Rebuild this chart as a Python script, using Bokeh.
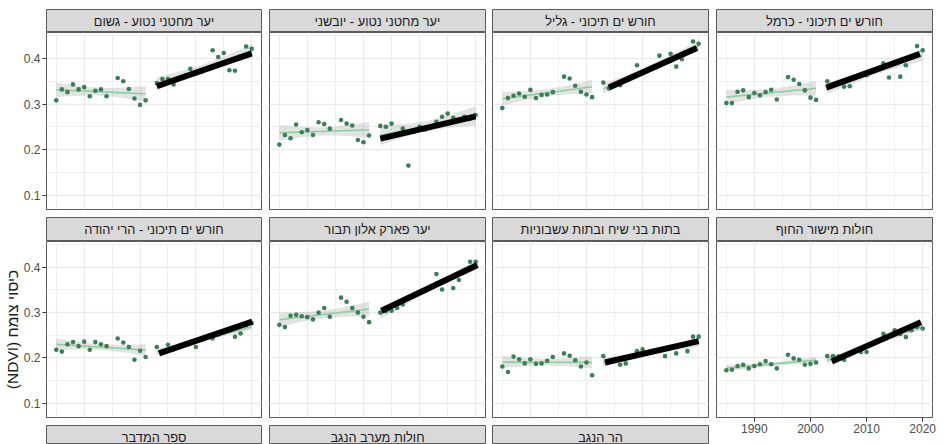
import numpy as np
from bokeh.plotting import figure
from bokeh.layouts import row, column
from bokeh.models import Range1d, FixedTicker, Grid, Label
from bokeh.embed import file_html
from bokeh.resources import INLINE

# ---------------- data ----------------
years_early = [1985, 1986, 1987, 1988, 1989, 1990, 1991, 1992, 1993, 1994,
               1996, 1997, 1998, 1999, 2000, 2001]
years_late = [2003, 2004, 2005, 2006, 2007, 2008, 2009, 2010, 2011, 2012,
              2013, 2014, 2015, 2016, 2017, 2018, 2019, 2020]

panel_titles = [
    "יער מחטני נטוע - גשום", "יער מחטני נטוע - יובשני",
    "חורש ים תיכוני - גליל", "חורש ים תיכוני - כרמל",
    "חורש ים תיכוני - הרי יהודה", "יער פארק אלון תבור",
    "בתות בני שיח ובתות עשבוניות", "חולות מישור החוף",
]
row3_titles = ["ספר המדבר", "חולות מערב הנגב", "הר הנגב"]

gishum_early = [0.308, 0.332, 0.326, 0.343, 0.332, 0.337, 0.317, 0.329, 0.332, 0.317,
                0.357, 0.350, 0.333, 0.312, 0.298, 0.308]
gishum_late = [0.346, 0.355, 0.355, 0.343, 0.357, 0.362, 0.377, 0.367, 0.371, 0.378,
               0.418, 0.403, 0.412, 0.374, 0.373, 0.404, 0.426, 0.421]

yovshani_early = [0.211, 0.232, 0.225, 0.255, 0.238, 0.243, 0.232, 0.260, 0.256, 0.246,
                  0.265, 0.257, 0.253, 0.221, 0.216, 0.231]
yovshani_late = [0.252, 0.250, 0.257, 0.232, 0.246, 0.165, 0.240, 0.250, 0.244, 0.248,
                 0.261, 0.272, 0.279, 0.270, 0.263, 0.272, 0.268, 0.276]

galil_early = [0.291, 0.313, 0.318, 0.323, 0.316, 0.331, 0.313, 0.320, 0.321, 0.326,
               0.360, 0.356, 0.340, 0.327, 0.321, 0.315]
galil_late = [0.347, 0.334, 0.340, 0.341, 0.352, 0.357, 0.385, 0.368, 0.375, 0.380,
              0.406, 0.392, 0.410, 0.382, 0.398, 0.414, 0.437, 0.432]

carmel_early = [0.302, 0.302, 0.327, 0.330, 0.315, 0.324, 0.319, 0.326, 0.331, 0.310,
                0.359, 0.353, 0.344, 0.330, 0.314, 0.309]
carmel_late = [0.350, 0.342, 0.346, 0.338, 0.339, 0.358, 0.364, 0.363, 0.371, 0.376,
               0.389, 0.358, 0.389, 0.360, 0.385, 0.402, 0.427, 0.418]

judea_early = [0.218, 0.214, 0.230, 0.235, 0.226, 0.236, 0.218, 0.235, 0.230, 0.226,
               0.243, 0.234, 0.224, 0.196, 0.216, 0.202]
judea_late = [0.224, 0.212, 0.229, 0.219, 0.226, 0.229, 0.233, 0.224, 0.240, 0.246,
              0.243, 0.252, 0.257, 0.261, 0.247, 0.254, 0.272, 0.277]

tavor_early = [0.273, 0.268, 0.293, 0.295, 0.292, 0.290, 0.285, 0.300, 0.310, 0.291,
               0.333, 0.324, 0.310, 0.300, 0.291, 0.279]
tavor_late = [0.300, 0.303, 0.304, 0.310, 0.318, 0.333, 0.338, 0.345, 0.349, 0.357,
              0.385, 0.351, 0.373, 0.354, 0.372, 0.392, 0.412, 0.412]

batot_early = [0.181, 0.169, 0.203, 0.197, 0.188, 0.197, 0.187, 0.188, 0.194, 0.202,
               0.210, 0.205, 0.195, 0.181, 0.190, 0.162]
batot_late = [0.204, 0.193, 0.196, 0.185, 0.188, 0.203, 0.215, 0.219, 0.212, 0.215,
              0.218, 0.204, 0.222, 0.210, 0.228, 0.215, 0.247, 0.247]

coast_early = [0.173, 0.174, 0.182, 0.185, 0.177, 0.182, 0.186, 0.193, 0.186, 0.177,
               0.207, 0.199, 0.196, 0.185, 0.187, 0.190]
coast_late = [0.204, 0.204, 0.203, 0.196, 0.210, 0.216, 0.213, 0.213, 0.231, 0.238,
              0.253, 0.247, 0.261, 0.253, 0.246, 0.261, 0.268, 0.265]

# black trend segments (start year, end year) and (start value, end value)
trend_years = [[2003.0, 2020.0], [2003.0, 2020.0], [2004.0, 2019.7], [2002.8, 2019.5],
               [2003.4, 2020.1], [2003.2, 2020.3], [2003.3, 2020.0], [2003.8, 2019.7]]
trend_values = [[0.339, 0.411], [0.224, 0.273], [0.336, 0.423], [0.336, 0.410],
                [0.210, 0.280], [0.304, 0.405], [0.190, 0.237], [0.192, 0.279]]

early_series = [gishum_early, yovshani_early, galil_early, carmel_early,
                judea_early, tavor_early, batot_early, coast_early]
late_series = [gishum_late, yovshani_late, galil_late, carmel_late,
               judea_late, tavor_late, batot_late, coast_late]

y_ticks = [0.1, 0.2, 0.3, 0.4]
y_minor = [0.05, 0.15, 0.25, 0.35, 0.45]
x_ticks = [1990, 2000, 2010, 2020]
x_minor = [1985, 1995, 2005, 2015]
y_label = "\u202bכיסוי צומח (NDVI)\u202c"

# ---------------- style ----------------
FONT = "Liberation Sans"
X_RANGE = (1983.25, 2021.75)
Y_RANGE = (0.0687, 0.4568)
POINT_C = "#3b7f57"
FIT_C = "#8fcf9f"
BAND_C = "#9a9a9a"
GRID_C = "#ebebeb"
BORDER_C = "#5a5a5a"
STRIP_FILL = "#d9d9d9"
T975 = {14: 2.145, 16: 2.120}

# column geometry: (width, min_border_left, min_border_right)
COLS = [(265, 45, 4), (224, 4, 4), (223, 3, 4), (227, 4, 7)]


def base_fig(width, height, left, right, top, bottom, xr, yr, xloc=None, yloc=None):
    p = figure(width=width, height=height, x_range=xr, y_range=yr,
               toolbar_location=None, output_backend="svg",
               x_axis_location=xloc, y_axis_location=yloc,
               min_border_left=left, min_border_right=right,
               min_border_top=top, min_border_bottom=bottom)
    p.xgrid.visible = False
    p.ygrid.visible = False
    p.border_fill_color = "white"
    p.outline_line_color = BORDER_C
    p.outline_line_width = 1
    return p


def make_strip(title, col, height, top, text_y):
    w, l, r = COLS[col]
    p = base_fig(w, height, l, r, top, 0, Range1d(0, 1), Range1d(0, 1))
    p.background_fill_color = STRIP_FILL
    p.add_layout(Label(x=0.5, y=text_y, x_units="data", y_units="screen",
                       text=title, text_align="center", text_baseline="middle",
                       text_font=FONT, text_font_size="12.8px", text_color="#1a1a1a"))
    return p


def lm_band(xs, ys):
    x = np.asarray(xs, float)
    y = np.asarray(ys, float)
    n = len(x)
    b, a = np.polyfit(x, y, 1)
    resid = y - (a + b * x)
    s = np.sqrt(np.sum(resid ** 2) / (n - 2))
    xm = x.mean()
    sxx = np.sum((x - xm) ** 2)
    xg = np.linspace(x.min(), x.max(), 60)
    fit = a + b * xg
    se = s * np.sqrt(1.0 / n + (xg - xm) ** 2 / sxx)
    t = T975.get(n - 2, 2.1)
    return xg, fit, fit - t * se, fit + t * se


def make_panel(i, col, height, bottom, yaxis=False, xaxis=False, ylabel=None):
    w, l, r = COLS[col]
    p = base_fig(w, height, l, r, 0, bottom, Range1d(*X_RANGE), Range1d(*Y_RANGE),
                 xloc="below" if xaxis else None, yloc="left" if yaxis else None)
    p.background_fill_color = "white"
    gx = Grid(dimension=0, ticker=FixedTicker(ticks=x_ticks, minor_ticks=x_minor),
              grid_line_color=GRID_C, grid_line_width=1.4,
              minor_grid_line_color=GRID_C, minor_grid_line_width=0.8)
    gy = Grid(dimension=1, ticker=FixedTicker(ticks=y_ticks, minor_ticks=y_minor),
              grid_line_color=GRID_C, grid_line_width=1.4,
              minor_grid_line_color=GRID_C, minor_grid_line_width=0.8)
    p.add_layout(gx, "center")
    p.add_layout(gy, "center")
    for axis, ticks in ((p.yaxis, y_ticks), (p.xaxis, x_ticks)):
        axis.ticker = FixedTicker(ticks=ticks)
        axis.axis_line_color = None
        axis.major_tick_in = 0
        axis.major_tick_out = 4
        axis.major_tick_line_color = "#333333"
        axis.minor_tick_line_color = None
        axis.major_label_text_font = FONT
        axis.major_label_text_font_size = "12px"
        axis.major_label_text_color = "#4d4d4d"
        axis.major_label_standoff = 2
    if ylabel is not None:
        p.yaxis.axis_label = ylabel
        p.yaxis.axis_label_text_font = FONT
        p.yaxis.axis_label_text_font_size = "15.5px"
        p.yaxis.axis_label_text_font_style = "normal"
        p.yaxis.axis_label_text_color = "#1a1a1a"
        p.yaxis.axis_label_standoff = 0

    for xs, ys in ((years_early, early_series[i]), (years_late, late_series[i])):
        xg, fit, lo, hi = lm_band(xs, ys)
        p.varea(x=xg, y1=lo, y2=hi, fill_color=BAND_C, fill_alpha=0.28)
        p.line(xg, fit, line_color=FIT_C, line_width=1.6)
    p.scatter(years_early + years_late, early_series[i] + late_series[i],
              size=4.6, fill_color=POINT_C, line_color=None)
    p.line(trend_years[i], trend_values[i], line_color="black", line_width=6,
           line_cap="butt")
    return p


columns = []
for col in range(4):
    figs = []
    figs.append(make_strip(panel_titles[col], col, 32, 9, 11.5))
    figs.append(make_panel(col, col, 184, 7, yaxis=(col == 0)))
    figs.append(make_strip(panel_titles[4 + col], col, 25, 1, 12))
    if col < 3:
        figs.append(make_panel(4 + col, col, 183, 7, yaxis=(col == 0),
                               ylabel=y_label if col == 0 else None))
        figs.append(make_strip(row3_titles[col], col, 20, 1, 7.5))
    else:
        figs.append(make_panel(4 + col, col, 196, 20, xaxis=True))
    columns.append(column(*figs))

layout = row(*columns)

with open("out.html", "w") as f:
    f.write(file_html(layout, INLINE))
